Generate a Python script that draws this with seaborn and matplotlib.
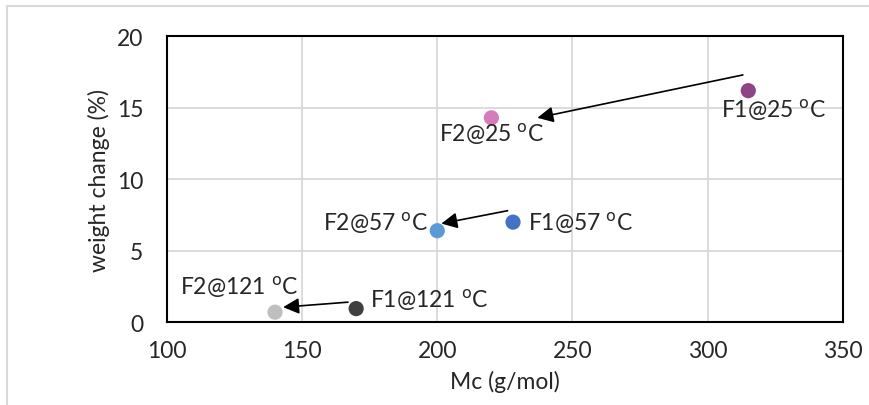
import pandas as pd
import matplotlib.pyplot as plt
import seaborn as sns
from matplotlib.lines import Line2D

labels = ["F1@25", "F2@25", "F1@57", "F2@57", "F1@121", "F2@121"]
mc = [315, 220, 228, 200, 170, 140]
weight_change = [16.2, 14.3, 7.0, 6.4, 0.95, 0.7]
colors = ["#8E4585", "#D77BBA", "#4472C4", "#5B9BD5", "#404040", "#BFBFBF"]

# arrows: (tail x, tail y, head x, head y)
arrows = [(313, 17.3, 237, 14.3), (226, 7.8, 201.5, 6.9), (167, 1.4, 143, 1.05)]

# label anchor (x, y, ha)
label_pos = [(305, 14.9, "left"), (200.5, 13.2, "left"), (233.5, 7.0, "left"),
             (196.5, 7.0, "right"), (175, 1.6, "left"), (105, 2.5, "left")]

df = pd.DataFrame({"label": labels, "mc": mc, "wc": weight_change})

sns.set_style("white")
plt.rcParams['font.family'] = ['Lato', 'DejaVu Sans']

fig = plt.figure(figsize=(8.69, 4.06), dpi=100)
ax = fig.add_axes([0.192, 0.204, 0.778, 0.704])

sns.scatterplot(data=df, x="mc", y="wc", hue="label", palette=colors,
                s=120, edgecolor="none", legend=False, ax=ax, zorder=3)

for (x0, y0, x1, y1) in arrows:
    ax.annotate("", xy=(x1, y1), xytext=(x0, y0),
                arrowprops=dict(arrowstyle="-|>", color="black", lw=1.2,
                                mutation_scale=24, shrinkA=0, shrinkB=0))

for lab, (tx, ty, ha) in zip(labels, label_pos):
    ax.text(tx, ty, lab + r" $^\mathrm{o}$C", ha=ha, va="center", fontsize=16.5)

ax.set_xlim(100, 350)
ax.set_ylim(0, 20)
ax.set_xticks(range(100, 351, 50))
ax.set_yticks(range(0, 21, 5))
ax.grid(True, color="#D9D9D9", lw=1.3)
ax.set_axisbelow(True)
for s in ax.spines.values():
    s.set_color("black")
    s.set_linewidth(1.5)
ax.tick_params(labelsize=16.5, length=0)
ax.tick_params(axis="x", pad=13)
ax.tick_params(axis="y", pad=17)
ax.set_xlabel("Mc (g/mol)", fontsize=16.5, labelpad=6)
ax.set_ylabel("weight change (%)", fontsize=16.5, labelpad=5)

# light frame around the chart area
fig.add_artist(Line2D([7 / 869, 7 / 869], [0, 1 - 7 / 406], color="#D9D9D9", lw=1.5))
fig.add_artist(Line2D([7 / 869, 1], [1 - 7 / 406, 1 - 7 / 406], color="#D9D9D9", lw=1.5))

plt.savefig("out.png", dpi=100)
